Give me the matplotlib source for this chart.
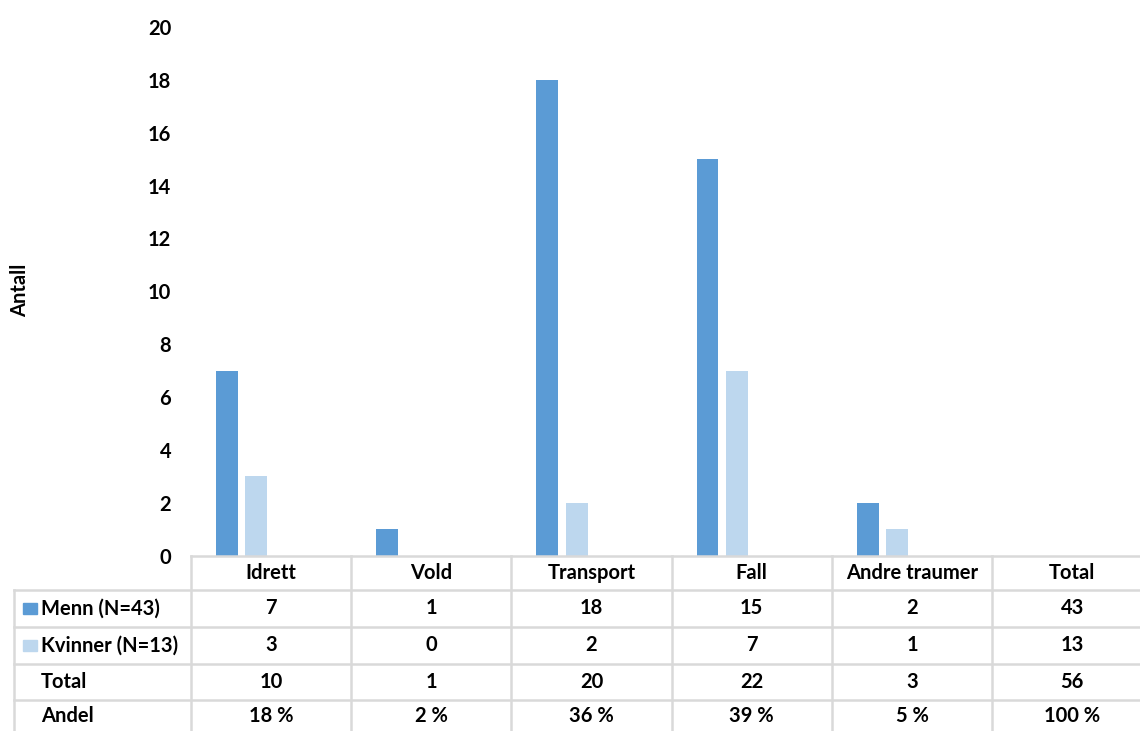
import matplotlib.pyplot as plt
import matplotlib.transforms as mtransforms
from matplotlib.lines import Line2D
from matplotlib.patches import Rectangle

categories = ['Idrett', 'Vold', 'Transport', 'Fall', 'Andre traumer', 'Total']
menn = [7, 1, 18, 15, 2]
kvinner = [3, 0, 2, 7, 1]
menn_row = ['7', '1', '18', '15', '2', '43']
kvinner_row = ['3', '0', '2', '7', '1', '13']
total_row = ['10', '1', '20', '22', '3', '56']
andel_row = ['18 %', '2 %', '36 %', '39 %', '5 %', '100 %']
row_labels = ['Menn (N=43)', 'Kvinner (N=13)', 'Total', 'Andel']

c_menn = '#5b9bd5'
c_kvinner = '#bdd7ee'
grid_c = '#d9d9d9'

plt.rcParams['font.family'] = ['Lato', 'DejaVu Sans']
plt.rcParams['font.weight'] = 'bold'

W, H = 1140, 731
fig = plt.figure(figsize=(W / 100, H / 100), dpi=100)

def fx(px):
  return px / W

def fy(py):
  return 1 - py / H

ax_left, ax_right = 190.7, 1152.5
ax_top, ax_bot = 27, 555.7
ax = fig.add_axes([fx(ax_left), fy(ax_bot), fx(ax_right - ax_left), (ax_bot - ax_top) / H])

fs = 14.5
step = 0.184
bw = 0.137
xs = list(range(len(menn)))
ax.bar([x - 1.5 * step for x in xs], menn, width=bw, color=c_menn)
ax.bar([x - 0.5 * step for x in xs], kvinner, width=bw, color=c_kvinner)

ax.set_xlim(-0.5, len(categories) - 0.5)
ax.set_ylim(0, 20)
ax.set_yticks(range(0, 21, 2))
ax.set_xticks([])
ax.tick_params(axis='y', length=0, pad=14, labelsize=fs)
for s in ax.spines.values():
  s.set_visible(False)
fig.text(fx(20), fy(290), 'Antall', rotation=90, ha='center', va='center', fontsize=fs, fontweight='bold')

# data table below the axis
tr = mtransforms.blended_transform_factory(ax.transData, fig.transFigure)
row_y = [555.7, 590, 626.5, 664, 700, 737]
n = len(categories)
lw = 1.8

# horizontal lines
fig.add_artist(Line2D([-0.5, n - 0.5], [fy(row_y[0])] * 2, transform=tr, color=grid_c, lw=lw))
for y in row_y[1:]:
  fig.add_artist(Line2D([fx(14), fx(ax_right)], [fy(y)] * 2, transform=fig.transFigure, color=grid_c, lw=lw))
# vertical lines
fig.add_artist(Line2D([fx(14), fx(14)], [fy(row_y[1]), fy(row_y[-1])], transform=fig.transFigure, color=grid_c, lw=lw))
for i in range(n + 1):
  fig.add_artist(Line2D([i - 0.5, i - 0.5], [fy(row_y[0]), fy(row_y[-1])], transform=tr, color=grid_c, lw=lw))

for i, c in enumerate(categories):
  yc = fy((row_y[0] + row_y[1]) / 2)
  fig.text(i, yc, c, transform=tr, ha='center', va='center', fontsize=fs, fontweight='bold')
rows = [menn_row, kvinner_row, total_row, andel_row]
for r, vals in enumerate(rows):
  yc = fy((row_y[r + 1] + min(row_y[r + 2], H)) / 2)
  for i, v in enumerate(vals):
    fig.text(i, yc, v, transform=tr, ha='center', va='center', fontsize=fs, fontweight='bold')
  fig.text(fx(41), yc, row_labels[r], ha='left', va='center', fontsize=fs, fontweight='bold')

# legend keys in the row labels
for r, col in enumerate([c_menn, c_kvinner]):
  yc = (row_y[r + 1] + row_y[r + 2]) / 2
  fig.add_artist(Rectangle((fx(23), fy(yc + 5.5)), fx(14), 11 / H, transform=fig.transFigure, color=col))

plt.savefig('out.png', dpi=100)
